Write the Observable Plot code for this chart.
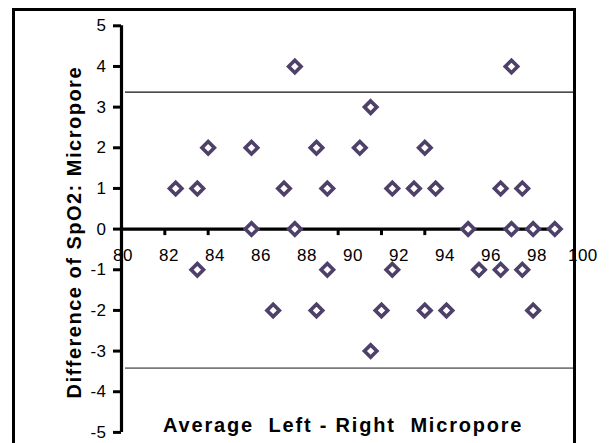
<!DOCTYPE html>
<html><head><meta charset="utf-8">
<script src="https://cdn.jsdelivr.net/npm/d3@7"></script>
<script src="https://cdn.jsdelivr.net/npm/@observablehq/plot@0.6"></script>
<style>
html,body{margin:0;padding:0;background:#fff;}
#wrap{position:relative;width:609px;height:443px;overflow:hidden;}
#box{position:absolute;left:12px;top:8px;width:558px;height:470px;border:3px solid #000;box-sizing:content-box;pointer-events:none;}
</style></head><body><div id="wrap"><div id="chart"></div><div id="box"></div></div>
<script>
// Average of left/right SpO2 (x) and difference (y)
const avg  = [88, 98,
              91.5,
              84, 86, 89, 91, 94,
              82.5, 83.5, 87.5, 89.5, 92.5, 93.5, 94.5, 97.5, 98.5,
              86, 88, 96, 98, 99, 100,
              83.5, 89.5, 92.5, 96.5, 97.5, 98.5,
              87, 89, 92, 94, 95, 99,
              91.5];
const diff = [4, 4,
              3,
              2, 2, 2, 2, 2,
              1, 1, 1, 1, 1, 1, 1, 1, 1,
              0, 0, 0, 0, 0, 0,
              -1, -1, -1, -1, -1, -1,
              -2, -2, -2, -2, -2, -2,
              -3];
const limits = [3.37, -3.42];
const xTicks = [80, 82, 84, 86, 88, 90, 92, 94, 96, 98, 100];
const xTickLabels = ["80", "82", "84", "86", "88", "90", "92", "94", "96", "98", "100"];
const yTicks = [-5, -4, -3, -2, -1, 0, 1, 2, 3, 4, 5];
const yTickLabels = ["-5", "-4", "-3", "-2", "-1", "0", "1", "2", "3", "4", "5"];
const xTitle = "Average  Left - Right  Micropore";
const yTitle = "Difference of SpO2: Micropore";

const points = avg.map((a, i) => ({avg: a, diff: diff[i]}));
const color = "#4e4068";

const svg = Plot.plot({
  width: 609, height: 443,
  marginLeft: 121, marginRight: 54.7, marginTop: 25.3, marginBottom: 11.1,
  x: {domain: [80, 100], axis: null},
  y: {domain: [-5, 5], axis: null},
  style: {fontFamily: "'Liberation Sans', Arial, sans-serif", background: "transparent", overflow: "visible", color: "#000"},
  marks: [
    Plot.ruleY([limits[0]], {stroke: "#111", strokeWidth: 1.4, insetLeft: 4, insetRight: -18.7}),
    Plot.ruleY([limits[1]], {stroke: "#7a7a7a", strokeWidth: 1.6, insetLeft: 4, insetRight: -18.7}),
    Plot.ruleX([xTicks[0]], {stroke: "#000", strokeWidth: 3.2}),
    Plot.ruleY(yTicks, {x1: () => xTicks[0], x2: () => xTicks[0], insetLeft: -8, stroke: "#000", strokeWidth: 3}),
    Plot.axisY(yTicks, {tickSize: 0, tickPadding: 15, tickFormat: d => yTickLabels[yTicks.indexOf(d)], fontSize: 17, label: null}),
    Plot.ruleY([0], {x1: () => xTicks[0], x2: () => xTicks[xTicks.length - 1], stroke: "#000", strokeWidth: 3.2}),
    Plot.ruleX(xTicks.slice(1), {y1: () => 0, y2: () => 0, insetBottom: -6.5, stroke: "#000", strokeWidth: 3}),
    ...xTicks.map((t, i) => Plot.text([t], {x: d => d, y: () => 0, text: () => xTickLabels[i], dx: 1.5 + (t - 80) * 1.33, dy: 20, lineAnchor: "top", fontSize: 17})),
    Plot.dot(points, {x: "avg", y: "diff", symbol: "diamond2", r: 5.6, stroke: color, strokeWidth: 3.6, fill: "white"}),
    Plot.text([xTitle], {text: d => d, frameAnchor: "bottom", textAnchor: "middle", lineAnchor: "middle", dx: 5, dy: -7.3, fontSize: 20, fontWeight: "bold"}),
    Plot.text([yTitle], {text: d => d, frameAnchor: "left", textAnchor: "middle", rotate: -90, lineAnchor: "middle", dx: -47.4, dy: 3.1, fontSize: 20, fontWeight: "bold"})
  ]
});
d3.select(svg).selectAll("text").each(function() {
  const t = this.textContent;
  if (t === xTitle) { this.style.whiteSpace = "pre"; this.style.letterSpacing = "1.8px"; }
  else if (t === yTitle) { this.style.letterSpacing = "1.5px"; }
  else { this.style.letterSpacing = "0.5px"; }
});
document.getElementById("chart").appendChild(svg);
</script></body></html>
